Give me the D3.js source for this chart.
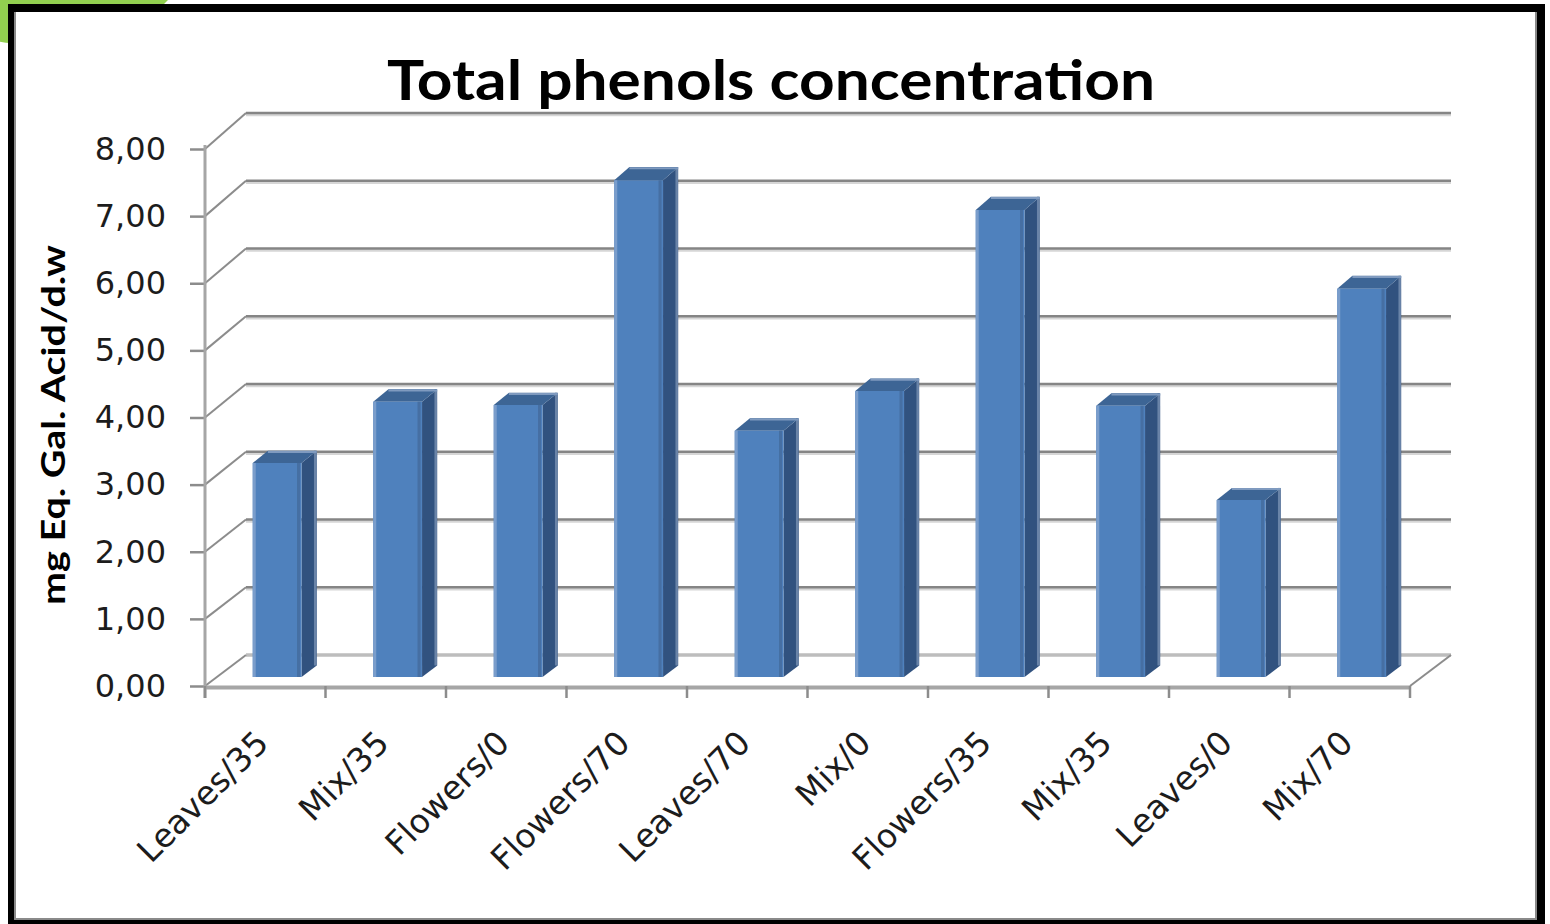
<!DOCTYPE html>
<html>
<head>
<meta charset="utf-8">
<script src="https://cdn.jsdelivr.net/npm/d3@7"></script>
<style>
  html, body { margin: 0; padding: 0; background: #ffffff; }
  svg { display: block; }
</style>
</head>
<body>
<svg id="chart" width="1550" height="924"></svg>
<script>
// Samples and their total phenol content (mg gallic acid eq. / dry weight)
const categories = ["Leaves/35", "Mix/35", "Flowers/0", "Flowers/70", "Leaves/70",
                    "Mix/0", "Flowers/35", "Mix/35", "Leaves/0", "Mix/70"];
const phenols = [3.18, 4.09, 4.04, 7.38, 3.66, 4.25, 6.94, 4.03, 2.63, 5.77];
const yTickValues = [0, 1, 2, 3, 4, 5, 6, 7, 8];
const chartTitle = "Total phenols concentration";
const yAxisTitle = "mg Eq. Gal. Acid/d.w";

const svg = d3.select("#chart");

// ---- frame -------------------------------------------------------------
svg.append("ellipse")
  .attr("cx", 40).attr("cy", -40).attr("rx", 145).attr("ry", 85)
  .attr("fill", "#92d050");
svg.append("rect")
  .attr("x", 8).attr("y", 4).attr("width", 1537).attr("height", 930)
  .attr("fill", "#000");
svg.append("rect")
  .attr("x", 14).attr("y", 12).attr("width", 1523).attr("height", 908)
  .attr("fill", "#fff");
svg.append("path")
  .attr("d", "M15,12 V919 H1536 V12")
  .attr("fill", "none").attr("stroke", "#8a8a8a").attr("stroke-width", 2);

// ---- 3-D scales --------------------------------------------------------
const x = d3.scaleBand().domain(d3.range(categories.length)).range([205, 1410]);
const yFront = d3.scaleLinear().domain([0, 8]).range([686, 149]);
const yBack = d3.scaleLinear().domain([0, 8]).range([655, 113]);
const depthX = 41;              // horizontal shift from front to back wall
const barFront = 0.29, barBack = 0.66;   // bar depth as fractions of the box
const barWidthRatio = 0.405;

// projection of (front x, value, depth fraction)
const proj = (xf, v, f) => [xf + f * depthX, yFront(v) + f * (yBack(v) - yFront(v))];
const line = d3.line();

const g = svg.append("g");

// back wall gridlines
const xL = x.range()[0], xR = x.range()[1];
yTickValues.forEach(v => {
  const yb = yBack(v);
  if (v === 0) {
    g.append("line").attr("x1", xL + depthX).attr("x2", xR + depthX)
      .attr("y1", yb).attr("y2", yb)
      .attr("stroke", "#bdbdbd").attr("stroke-width", 3.5);
  } else {
    g.append("line").attr("x1", xL + depthX).attr("x2", xR + depthX)
      .attr("y1", yb + 2).attr("y2", yb + 2)
      .attr("stroke", "#d6d6d6").attr("stroke-width", 2.5);
    g.append("line").attr("x1", xL + depthX).attr("x2", xR + depthX)
      .attr("y1", yb).attr("y2", yb)
      .attr("stroke", "#858585").attr("stroke-width", 2.5);
  }
  // left wall diagonals
  g.append("path")
    .attr("d", line([proj(xL, v, 0), proj(xL, v, 1)]))
    .attr("stroke", "#8c8c8c").attr("stroke-width", 2).attr("fill", "none");
});

// right floor edge
g.append("path")
  .attr("d", line([proj(xR, 0, 0), proj(xR, 0, 1)]))
  .attr("stroke", "#8c8c8c").attr("stroke-width", 2).attr("fill", "none");

// ---- bars ----------------------------------------------------------------
const bars = g.append("g");
phenols.forEach((v, i) => {
  const bw = x.bandwidth() * barWidthRatio;
  const x0 = x(i) + (x.bandwidth() - bw) / 2;
  const x1 = x0 + bw;
  const fbl = proj(x0, 0, barFront), fbr = proj(x1, 0, barFront);
  const ftl = proj(x0, v, barFront), ftr = proj(x1, v, barFront);
  const bbr = proj(x1, 0, barBack), btr = proj(x1, v, barBack), btl = proj(x0, v, barBack);
  const b = bars.append("g");
  // side face
  b.append("path").attr("d", line([fbr, ftr, btr, bbr]) + "Z")
    .attr("fill", "#31527f");
  b.append("path").attr("d", line([[bbr[0] - 1.5, bbr[1]], [btr[0] - 1.5, btr[1]]]))
    .attr("stroke", "#6a84a8").attr("stroke-width", 2.5);
  // top face
  b.append("path").attr("d", line([ftl, ftr, btr, btl]) + "Z")
    .attr("fill", "#3d6595");
  b.append("path").attr("d", line([[btl[0], btl[1] + 1.2], [btr[0], btr[1] + 1.2]]))
    .attr("stroke", "#7f9abf").attr("stroke-width", 2);
  // front face
  b.append("path").attr("d", line([fbl, ftl, ftr, fbr]) + "Z")
    .attr("fill", "#4f81bd");
  b.append("path").attr("d", line([[fbl[0] + 1.5, fbl[1]], [ftl[0] + 1.5, ftl[1]]]))
    .attr("stroke", "#7a9dcb").attr("stroke-width", 3);
  b.append("path").attr("d", line([[fbr[0] - 3, fbr[1]], [ftr[0] - 3, ftr[1]]]))
    .attr("stroke", "#466fa3").attr("stroke-width", 3);
});

// ---- axes ------------------------------------------------------------------
const fmt = v => d3.format(".2f")(v).replace(".", ",");

const yAxis = svg.append("g")
  .attr("transform", `translate(${xL},0)`)
  .call(d3.axisLeft(yFront).tickValues(yTickValues).tickFormat(fmt)
    .tickSize(15).tickSizeOuter(0).tickPadding(24));
yAxis.select(".domain").remove();
yAxis.selectAll(".tick line").attr("stroke", "#8c8c8c").attr("stroke-width", 2.5);
yAxis.selectAll(".tick text")
  .attr("font-family", "DejaVu Sans").attr("font-size", 32).attr("fill", "#1c1c1c");
svg.append("line")
  .attr("x1", xL).attr("x2", xL).attr("y1", yFront(8) - 4).attr("y2", yFront(0) + 12)
  .attr("stroke", "#a6a6a6").attr("stroke-width", 3);

// front floor edge and category ticks
svg.append("line")
  .attr("x1", xL).attr("x2", xR).attr("y1", yFront(0) + 1.5).attr("y2", yFront(0) + 1.5)
  .attr("stroke", "#a6a6a6").attr("stroke-width", 4);
svg.append("g").selectAll("line")
  .data(d3.range(categories.length + 1))
  .join("line")
  .attr("x1", i => i < categories.length ? x(i) : xR)
  .attr("x2", i => i < categories.length ? x(i) : xR)
  .attr("y1", yFront(0)).attr("y2", yFront(0) + 12)
  .attr("stroke", "#8c8c8c").attr("stroke-width", 2.5);

const xAxis = svg.append("g")
  .attr("transform", `translate(0,${yFront(0)})`)
  .call(d3.axisBottom(x).tickFormat(i => categories[i]).tickSize(0).tickSizeOuter(0));
xAxis.select(".domain").remove();
xAxis.selectAll(".tick text")
  .attr("font-family", "DejaVu Sans").attr("font-size", 33).attr("fill", "#1c1c1c")
  .attr("text-anchor", "end")
  .attr("dy", null)
  .attr("y", null)
  .attr("transform", "translate(5,59) rotate(-45)");

// ---- titles ----------------------------------------------------------------
svg.append("text")
  .attr("x", 771).attr("y", 100)
  .attr("text-anchor", "middle")
  .attr("font-family", "Lato").attr("font-weight", "bold").attr("font-size", 55)
  .attr("textLength", 768).attr("lengthAdjust", "spacingAndGlyphs")
  .attr("fill", "#000")
  .text(chartTitle);

svg.append("text")
  .attr("transform", "translate(65,425) rotate(-90)")
  .attr("text-anchor", "middle")
  .attr("font-family", "Lato").attr("font-weight", "bold").attr("font-size", 33)
  .attr("textLength", 360).attr("lengthAdjust", "spacingAndGlyphs")
  .attr("fill", "#000")
  .text(yAxisTitle);
</script>
</body>
</html>
